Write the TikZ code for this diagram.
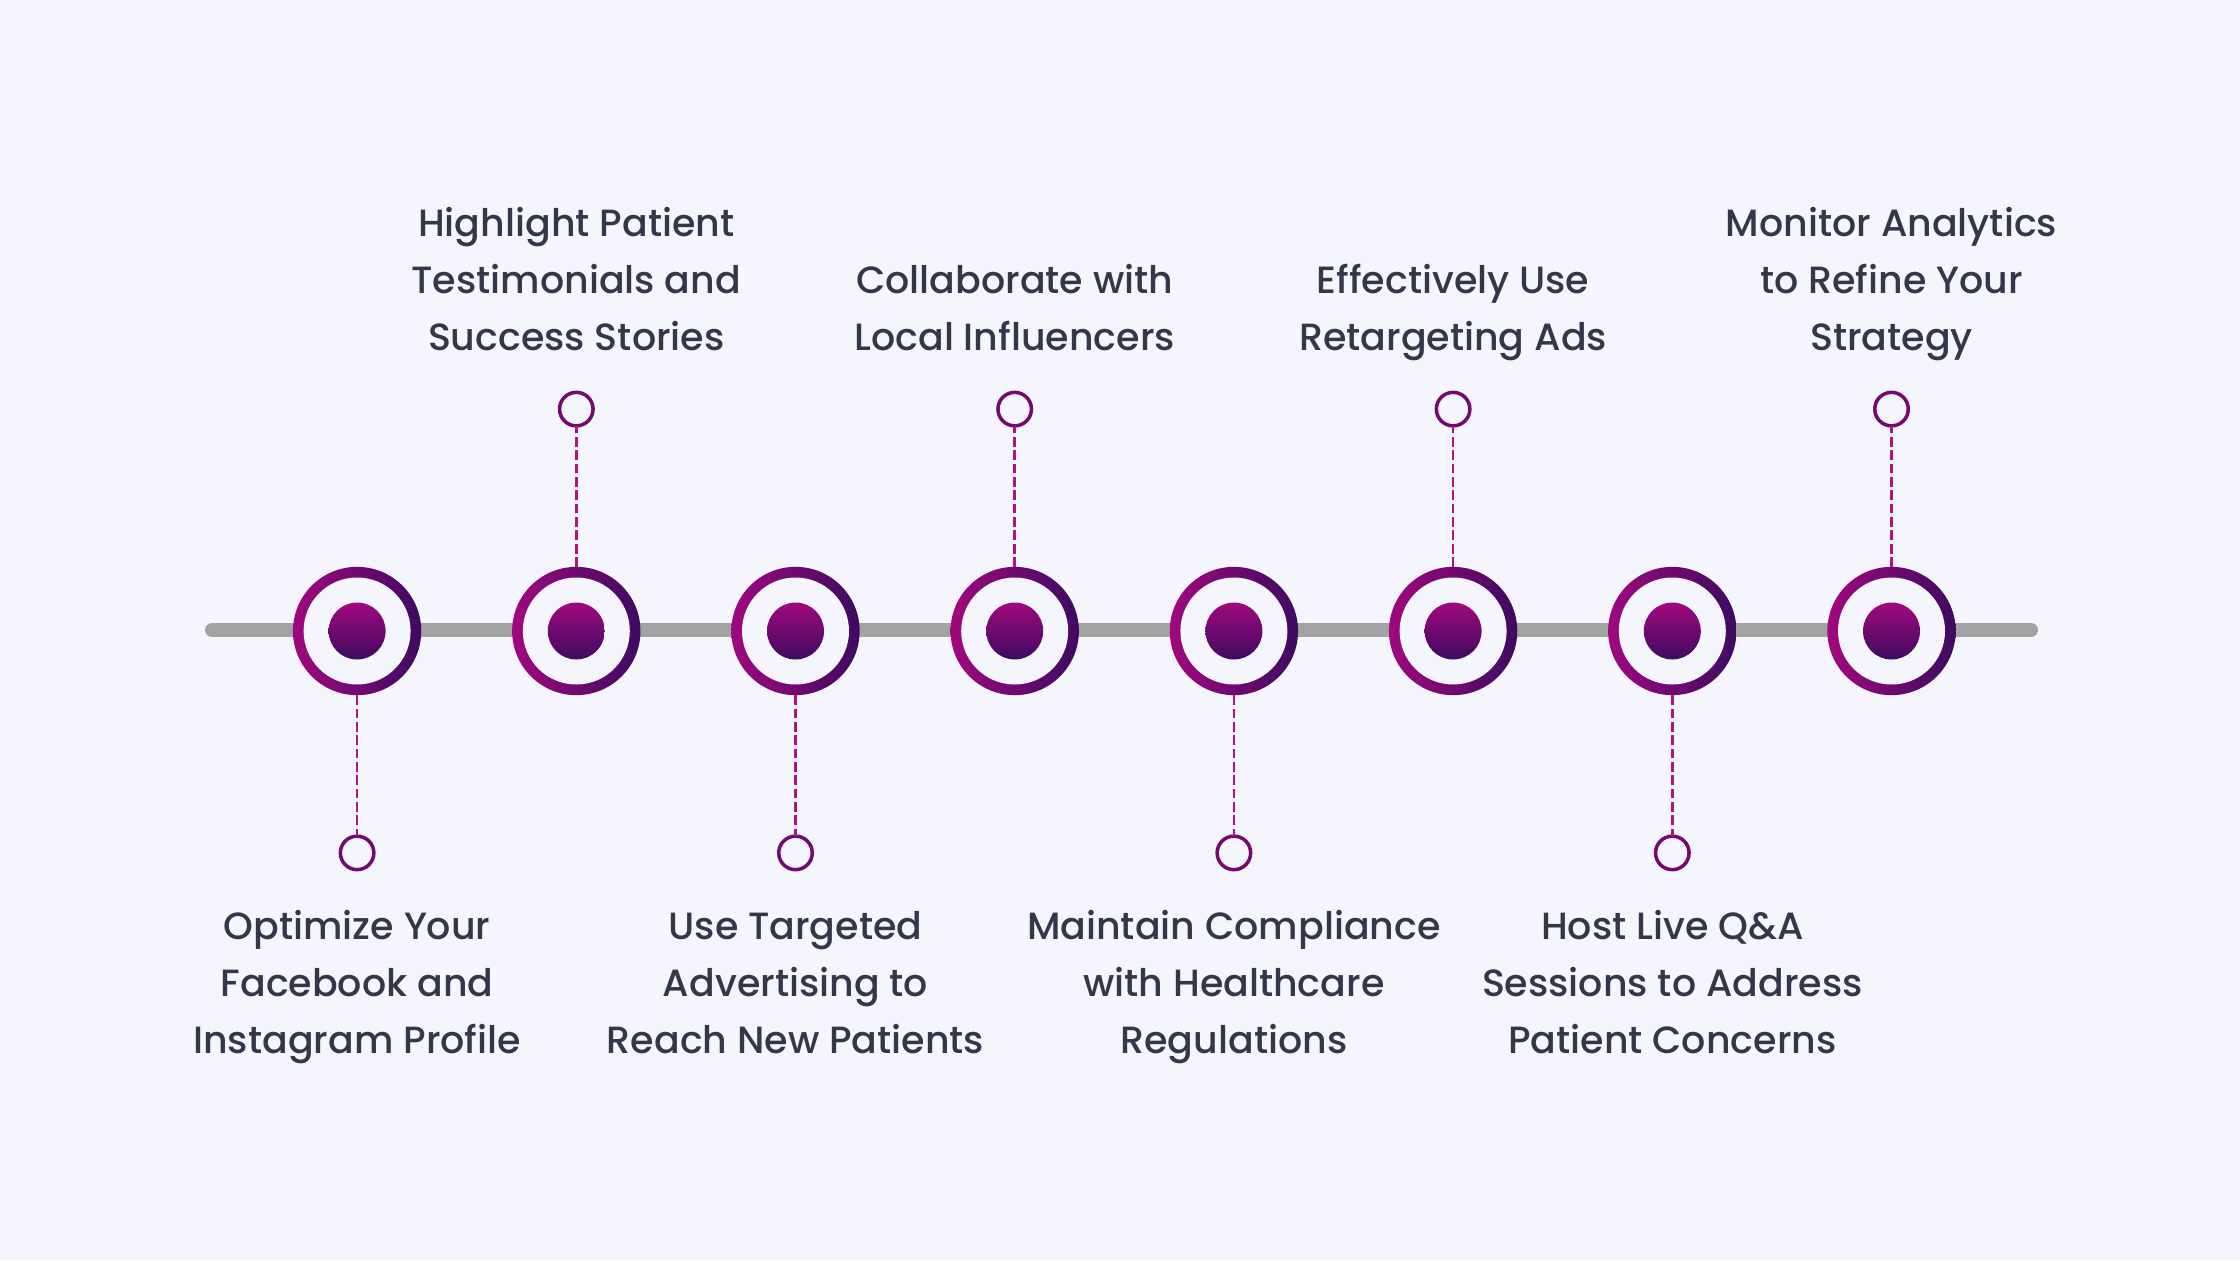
\documentclass[tikz,border=0pt]{standalone}
\usepackage{fontspec}
\setmainfont{Poppins Medium}
\usetikzlibrary{positioning}

\definecolor{pagebg}{HTML}{F5F5FD}
\definecolor{railgray}{HTML}{A3A3A3}
\definecolor{plum}{HTML}{A0087E}
\definecolor{grape}{HTML}{3E0A60}
\definecolor{plummid}{HTML}{75096F}
\definecolor{dashpink}{HTML}{B0127F}
\definecolor{inkdark}{HTML}{35364A}

\tikzset{
  bigring/.style={circle, minimum size=1.283cm, inner sep=0pt, outer sep=0pt,
    left color=plum, right color=grape},
  ringhole/.style={circle, minimum size=1.07cm, inner sep=0pt, fill=pagebg},
  ringcore/.style={circle, minimum size=0.57cm, inner sep=0pt,
    top color=plum, bottom color=grape},
  endcircle/.style={circle, minimum size=0.335cm, inner sep=0pt, outer sep=0pt,
    draw=plummid, line width=1pt, fill=pagebg},
  steptext/.style={align=center, inner sep=0pt, text=inkdark,
    font=\fontsize{10.8}{16.2}\selectfont},
  stemline/.style={dashpink, line width=0.75pt, dash pattern=on 2.8pt off 1pt},
  railline/.style={railgray, line width=0.14cm, line cap=round}
}

\begin{document}
\begin{tikzpicture}
  \path[use as bounding box, fill=pagebg] (0,0) rectangle (22.4,12.6);
  % Timeline rail
  \coordinate (railL) at (2.12,6.30);
  \coordinate (railR) at (20.31,6.30);
  \draw[railline] (railL) -- (railR);
  % Steps, alternating below and above
  \foreach \i/\side/\gap/\txt in {
      1/below/2.95mm/{Optimize Your\\Facebook and\\Instagram Profile},
      2/above/2.45mm/{Highlight Patient\\Testimonials and\\Success Stories},
      3/below/2.95mm/{Use Targeted\\Advertising to\\Reach New Patients},
      4/above/2.45mm/{Collaborate with\\Local Influencers},
      5/below/2.95mm/{Maintain Compliance\\with Healthcare\\Regulations},
      6/above/2.45mm/{Effectively Use\\Retargeting Ads},
      7/below/2.95mm/{Host Live Q\&A\\Sessions to Address\\Patient Concerns},
      8/above/2.45mm/{Monitor Analytics\\to Refine Your\\Strategy}} {
    \node[bigring] (r\i) at ({3.571+2.192*(\i-1)},6.29) {};
    \node[ringhole] (h\i) at (r\i) {};
    \node[ringcore] (c\i) at (r\i) {};
    \node[endcircle, \side=1.41cm of r\i] (e\i) {};
    \node[steptext, \side=\gap of e\i] (t\i) {\strut\txt\strut};
    \draw[stemline] (r\i) -- (e\i);
  }
\end{tikzpicture}
\end{document}
